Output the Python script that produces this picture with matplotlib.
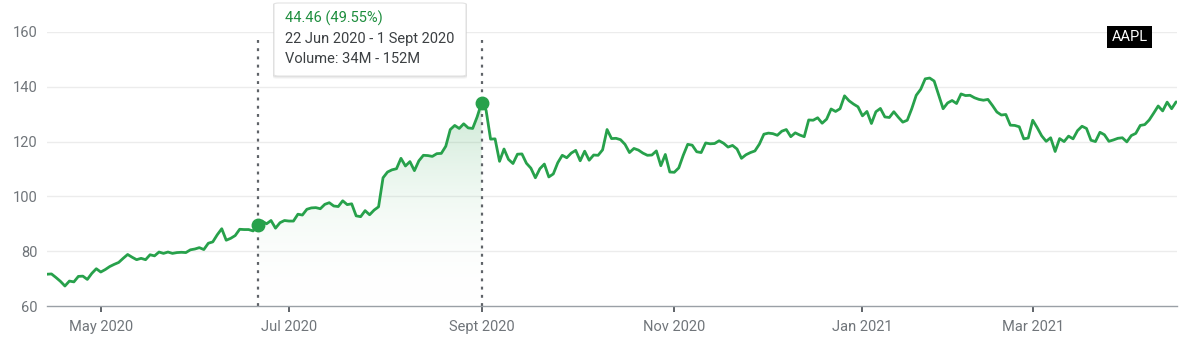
"""
aapl_chart.py - AAPL price chart, Apr 2020 - Apr 2021, with a selected range
"""

import numpy as np
import pandas as pd
import matplotlib
matplotlib.use("Agg")
import matplotlib.pyplot as plt
from matplotlib.colors import LinearSegmentedColormap
from matplotlib.patches import FancyBboxPatch

plt.rcParams["font.family"] = ["Roboto", "DejaVu Sans"]

COLOR_LINE = "#27a14b"
COLOR_TEXT_GREEN = "#1e8e3e"
COLOR_AXIS_TEXT = "#70757a"
COLOR_GRID = "#ececec"

# trading-day closes, one list per month
apr_2020 = [71.6, 71.7, 70.4, 69.0, 67.3, 69.1, 68.8, 70.8, 70.9, 69.7, 71.9, 73.6]
may_2020 = [72.4, 73.3, 74.4, 75.2, 75.9, 77.4, 78.8, 77.8, 76.9, 77.4, 76.9, 78.7, 78.3, 79.7,
            79.2, 79.7, 79.2, 79.5, 79.6, 79.5]
jun_2020 = [80.5, 80.8, 81.3, 80.6, 82.9, 83.4, 86.0, 88.2, 84.0, 84.7, 85.7, 88.0, 87.9, 87.9,
            87.4, 89.72, 91.0, 90.0, 91.2, 88.4, 90.4, 91.2]
jul_2020 = [91.0, 91.0, 93.5, 93.2, 95.3, 95.8, 95.9, 95.5, 97.1, 97.7, 96.5, 96.3, 98.4, 97.0,
            97.3, 92.9, 92.6, 94.8, 93.3, 95.0, 96.2, 106.8]
aug_2020 = [108.9, 109.7, 110.1, 113.9, 111.1, 112.7, 109.4, 113.0, 115.0, 114.9, 114.6, 115.6,
            115.7, 118.3, 124.4, 125.9, 124.8, 126.5, 125.0, 124.8, 129.0]
sep_2020 = [134.18, 131.4, 120.9, 121.0, 112.8, 117.3, 113.5, 112.0, 115.4, 115.5, 112.1, 110.3,
            106.8, 110.1, 111.8, 107.1, 108.2, 112.3, 115.0, 114.1, 115.8]
oct_2020 = [116.8, 113.0, 116.5, 113.2, 115.1, 115.0, 117.0, 124.4, 121.1, 121.2, 120.7, 119.0,
            116.0, 117.5, 116.9, 115.8, 115.0, 115.1, 116.6, 111.2, 115.3, 108.9]
nov_2020 = [108.8, 110.4, 115.0, 119.0, 118.7, 116.3, 116.0, 119.5, 119.2, 119.3, 120.3, 119.4,
            118.0, 118.6, 117.3, 113.9, 115.2, 116.0, 116.6, 119.1]
dec_2020 = [122.7, 123.1, 122.9, 122.3, 123.8, 124.4, 121.8, 123.2, 122.4, 121.8, 127.9, 127.8,
            128.7, 126.7, 128.2, 131.9, 131.0, 132.0, 136.7, 134.9, 133.7, 132.7]
jan_2021 = [129.4, 131.0, 126.6, 130.9, 132.1, 129.0, 128.8, 130.9, 128.9, 127.1, 127.8, 132.0,
            136.9, 139.1, 142.9, 143.2, 142.1, 137.1, 132.0]
feb_2021 = [134.1, 135.0, 133.9, 137.4, 136.8, 136.9, 136.0, 135.4, 135.1, 135.4, 133.2, 130.8,
            129.7, 129.9, 126.0, 125.9, 125.4, 121.0, 121.3]
mar_2021 = [127.8, 125.1, 122.1, 120.1, 121.4, 116.4, 121.1, 120.0, 122.0, 121.0, 124.0, 125.6,
            124.8, 120.5, 120.0, 123.4, 122.5, 120.1, 120.6, 121.2, 121.4, 119.9, 122.2]
apr_2021 = [123.0, 125.9, 126.2, 127.9, 130.4, 133.0, 131.2, 134.4, 132.0, 134.5]

START_DATE = "2020-04-15"
END_DATE = "2021-04-15"
MARKET_HOLIDAYS = ["2020-05-25", "2020-07-03", "2020-09-07", "2020-11-26", "2020-12-25",
                   "2021-01-01", "2021-01-18", "2021-02-15", "2021-04-02"]

tick_months = ["2020-05-01", "2020-07-01", "2020-09-01", "2020-11-01", "2021-01-01", "2021-03-01"]
tick_labels = ["May 2020", "Jul 2020", "Sept 2020", "Nov 2020", "Jan 2021", "Mar 2021"]

range_start = "2020-06-22"
range_end = "2020-09-01"
range_text = "22 Jun 2020 - 1 Sept 2020"
volume_text = "Volume: 34M - 152M"
ticker = "AAPL"

y_ticks = [60, 80, 100, 120, 140, 160]


def main():
    price = np.array(apr_2020 + may_2020 + jun_2020 + jul_2020 + aug_2020 + sep_2020 + oct_2020
                     + nov_2020 + dec_2020 + jan_2021 + feb_2021 + mar_2021 + apr_2021)
    dates = pd.bdate_range(START_DATE, END_DATE, freq="C", holidays=MARKET_HOLIDAYS)
    x = np.arange(len(price))

    fig = plt.figure(figsize=(12, 3.58), dpi=100)
    ax = fig.add_axes([47 / 1200, 52 / 358, 1130 / 1200, 274 / 358])

    ax.set_ylim(y_ticks[0], y_ticks[-1])
    ax.set_xlim(0, len(price) - 0.8)
    ax.set_yticks(y_ticks)
    for yv in y_ticks[1:]:
        ax.axhline(yv, color=COLOR_GRID, linewidth=1, zorder=0)

    # selected range: gradient fill under the line
    i0 = dates.get_loc(pd.Timestamp(range_start))
    i1 = dates.get_loc(pd.Timestamp(range_end))
    poly = ax.fill_between(x[i0:i1 + 1], price[i0:i1 + 1], y_ticks[0], color="none", linewidth=0)
    cmap = LinearSegmentedColormap.from_list("fade", [(1, 1, 1, 0), (0.15, 0.63, 0.29, 0.24)])
    grad = np.linspace(0, 1, 256).reshape(-1, 1)
    im = ax.imshow(grad, extent=[x[i0], x[i1], y_ticks[0], price[i0:i1 + 1].max()],
                   origin="lower", aspect="auto", cmap=cmap, zorder=1)
    im.set_clip_path(poly.get_paths()[0], transform=ax.transData)

    for i in (i0, i1):
        ax.axvline(x[i], ymin=0, ymax=0.983, color="#5f6368", linewidth=1.6,
                   linestyle=(0, (1.3, 2.4)), zorder=2)

    ax.plot(x, price, color=COLOR_LINE, linewidth=2.0, zorder=3,
            solid_joinstyle="round", solid_capstyle="round")
    ax.plot(x[[i0, i1]], price[[i0, i1]], "o", color=COLOR_LINE, markersize=9, zorder=4)

    ax.set_xlim(0, len(price) - 0.8)
    ax.set_ylim(y_ticks[0], y_ticks[-1])

    tick_pos = [np.searchsorted(dates, pd.Timestamp(m)) for m in tick_months]
    ax.set_xticks(tick_pos)
    ax.set_xticklabels(tick_labels)

    for side in ["top", "right", "left"]:
        ax.spines[side].set_visible(False)
    ax.spines["bottom"].set_color("#9aa0a6")
    ax.spines["bottom"].set_linewidth(1)
    ax.tick_params(axis="x", length=4, width=1.4, color="#5f6368", pad=6,
                   labelsize=10.5, labelcolor=COLOR_AXIS_TEXT)
    ax.tick_params(axis="y", length=0, pad=7, labelsize=10.5, labelcolor=COLOR_AXIS_TEXT)

    # tooltip box with a soft shadow
    for k, a in enumerate([0.06, 0.045, 0.03]):
        fig.patches.append(FancyBboxPatch(((274 - 1) / 1200, (282 - k - 1) / 358),
                                          194 / 1200, (74 + k) / 358,
                                          boxstyle="round,pad=0,rounding_size=0.004",
                                          transform=fig.transFigure, facecolor=(0, 0, 0, a),
                                          edgecolor="none", zorder=5))
    fig.patches.append(FancyBboxPatch((274 / 1200, 282 / 358), 192 / 1200, 73 / 358,
                                      boxstyle="round,pad=0,rounding_size=0.004",
                                      transform=fig.transFigure, facecolor="white",
                                      edgecolor="#e3e3e3", linewidth=0.8, zorder=6))
    change = price[i1] - price[i0]
    pct = change / price[i0] * 100
    fig.text(285 / 1200, 1 - 18 / 358, f"{change:.2f} ({pct:.2f}%)", color=COLOR_TEXT_GREEN,
             fontsize=10.5, va="center", ha="left", zorder=7)
    fig.text(285 / 1200, 1 - 39 / 358, range_text, color="#3c4043",
             fontsize=10.5, va="center", ha="left", zorder=7)
    fig.text(285 / 1200, 1 - 59 / 358, volume_text, color="#3c4043",
             fontsize=10.5, va="center", ha="left", zorder=7)

    # ticker badge
    fig.text(1129.5 / 1200, 1 - 37 / 358, ticker, color="white", fontsize=10.5,
             ha="center", va="center",
             bbox=dict(boxstyle="square,pad=0.3", facecolor="black", edgecolor="none"))

    plt.savefig("out.png", dpi=100)
    plt.close()


if __name__ == "__main__":
    main()
